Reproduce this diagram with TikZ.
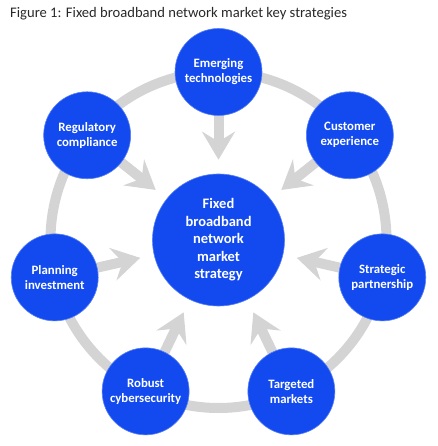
\documentclass[tikz,border=0pt]{standalone}
\usepackage{fontspec}
\setmainfont{Carlito}
\usetikzlibrary{arrows.meta}
\pgfdeclarelayer{bg}
\pgfsetlayers{bg,main}
\definecolor{nblue}{RGB}{18,74,240}
\definecolor{ngrey}{RGB}{212,212,212}
\definecolor{ntext}{RGB}{40,40,40}
\tikzset{
  outerc/.style={circle,fill=nblue,draw=nblue!70!white,line width=0.6pt,minimum size=87pt,inner sep=0pt,align=center,text=white,font=\bfseries\fontsize{12.8}{15}\selectfont},
  centerc/.style={circle,fill=nblue,draw=nblue!70!white,line width=0.6pt,minimum size=132pt,inner sep=0pt,align=center,text=white,font=\bfseries\fontsize{14.5}{17.5}\selectfont},
  ring/.style={draw=ngrey,line width=10pt},
  garrow/.style={draw=ngrey,line width=10pt,shorten >=14pt,shorten <=-6pt,-{Stealth[width=33pt,length=28pt,inset=10pt]}},
  titletext/.style={anchor=base west,inner sep=0pt,text=ntext,font=\fontsize{14.6}{17}\selectfont}
}
\begin{document}
\begin{tikzpicture}[x=1pt,y=1pt]
\useasboundingbox (-218.5,-206) rectangle (218.5,240);
\node[titletext] (title) at (-208.5,222) {Figure 1: Fixed broadband network market key strategies};
\coordinate (c) at (0,0);
\node[outerc] (n1) at (90:168) {Emerging\\technologies};
\node[outerc] (n2) at (38.57:168) {Customer\\experience};
\node[outerc] (n3) at (-12.86:168) {Strategic\\partnership};
\node[outerc] (n4) at (-64.29:168) {Targeted\\markets};
\node[outerc] (n5) at (-115.71:168) {Robust\\cybersecurity};
\node[outerc] (n6) at (-167.14:168) {Planning\\investment};
\node[outerc] (n7) at (141.43:168) {Regulatory\\compliance};
\node[centerc] (m) at (c) {Fixed\\broadband\\network\\market\\strategy};
\begin{pgfonlayer}{bg}
\draw[ring] (c) circle (168);
\foreach \i in {1,...,7} {
  \draw[garrow] (n\i) -- (m);
}
\end{pgfonlayer}
\end{tikzpicture}
\end{document}
